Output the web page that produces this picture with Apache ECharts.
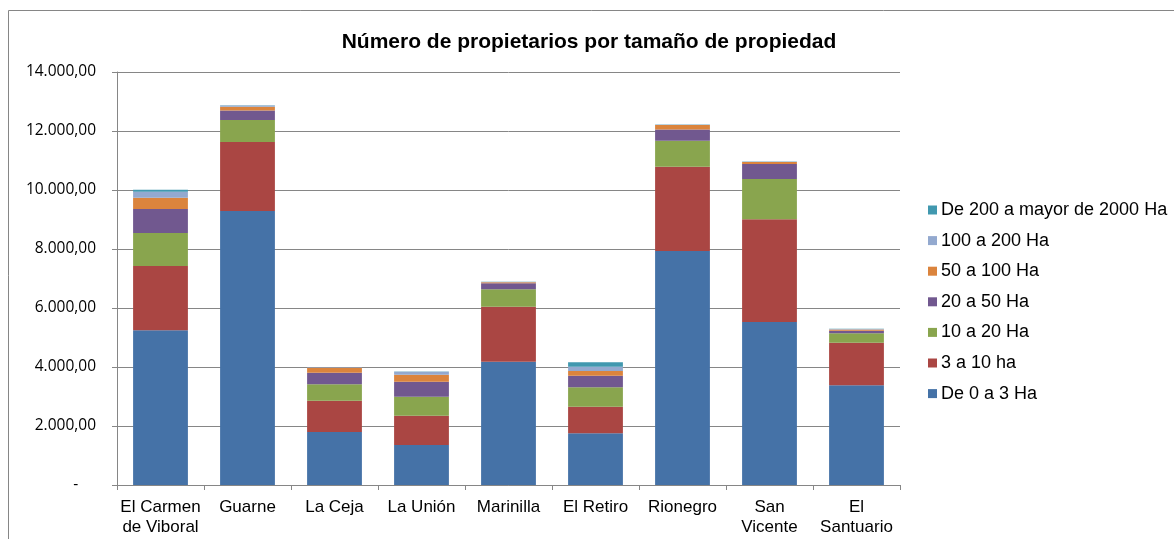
<!DOCTYPE html>
<html>
<head>
<meta charset="utf-8">
<script src="https://cdn.jsdelivr.net/npm/echarts@6/dist/echarts.min.js"></script>
<style>
  html, body { margin: 0; padding: 0; background: #fff; }
  #chart { width: 1174px; height: 539px; }
</style>
</head>
<body>
<div id="chart"></div>
<script>
// municipios
const categories = ["El Carmen\nde Viboral", "Guarne", "La Ceja", "La Unión", "Marinilla", "El Retiro", "Rionegro", "San\nVicente", "El\nSantuario"];

// propietarios por rango de tamaño
const de0a3     = [5250, 9290, 1800, 1356, 4180, 1752, 7930, 5525, 3380];
const de3a10    = [2170, 2340, 1060,  994, 1864,  903, 2858, 3482, 1445];
const de10a20   = [1120,  746,  555,  643,  589,  656,  881, 1366,  318];
const de20a50   = [ 814,  317,  394,  509,  204,  394,  380,  508,   89];
const de50a100  = [ 385,  133,  169,  237,   34,  159,  152,   69,   40];
const de100a200 = [ 200,   37,   12,  102,   10,  146,   12,   10,   17];
const de200mas  = [  70,   10,    4,   10,    5,  148,    5,    5,    4];

const seriesNames = ["De 0 a 3 Ha", "3 a 10 ha", "10 a 20 Ha", "20 a 50 Ha", "50 a 100 Ha", "100 a 200 Ha", "De 200 a mayor de 2000 Ha"];
const seriesData = [de0a3, de3a10, de10a20, de20a50, de50a100, de100a200, de200mas];
const colors = ["#4572A7", "#AA4643", "#89A54E", "#71588F", "#DB843D", "#93A9CF", "#4198AF"];

function fmt (v) {
  if (v === 0) return "-\u2007\u2007";
  const s = String(Math.round(v)).replace(/\B(?=(\d{3})+(?!\d))/g, ".");
  return s + ",00";
}

const chart = echarts.init(document.getElementById("chart"), null, { renderer: "canvas" });

const option = {
  animation: false,
  color: colors,
  title: {
    text: "Número de propietarios por tamaño de propiedad",
    left: 584,
    textAlign: "center",
    top: 27,
    textStyle: {
      color: "#000",
      fontFamily: "Liberation Sans, Arial",
      fontSize: 21,
      fontWeight: "bold",
    },
  },
  graphic: [
    {
      type: "rect",
      shape: { x: 8.5, y: 10.5, width: 1200, height: 600 },
      style: { fill: "none", stroke: "#868686", lineWidth: 1 },
      silent: true,
    }
  ],
  legend: {
    orient: "vertical",
    left: 923,
    top: 196,
    itemWidth: 9,
    itemHeight: 9,
    itemGap: 12.6,
    icon: "rect",
    data: seriesNames.slice().reverse(),
    textStyle: {
      color: "#000",
      fontFamily: "Liberation Sans, Arial",
      fontSize: 18,
      padding: [0, 0, 0, -1],
    },
  },
  grid: {
    left: 117,
    right: 274,
    top: 72,
    bottom: 54,
  },
  xAxis: {
    type: "category",
    data: categories,
    axisLine: { lineStyle: { color: "#868686" } },
    axisTick: { show: true, length: 5, lineStyle: { color: "#868686" } },
    axisLabel: {
      color: "#000",
      fontFamily: "Liberation Sans, Arial",
      fontSize: 17,
      lineHeight: 20,
      margin: 12,
      interval: 0,
    },
  },
  yAxis: {
    type: "value",
    min: 0,
    max: 14000,
    interval: 2000,
    axisLine: { show: true, lineStyle: { color: "#868686" } },
    axisTick: { show: true, length: 5, lineStyle: { color: "#868686" } },
    splitLine: { lineStyle: { color: "#868686" } },
    axisLabel: {
      color: "#000",
      fontFamily: "Open Sans, sans-serif",
      fontSize: 15.5,
      margin: 21,
      formatter: fmt,
    },
  },
  series: seriesNames.map((name, i) => ({
    name: name,
    type: "bar",
    stack: "total",
    barWidth: "63%",
    data: seriesData[i],
    itemStyle: { color: colors[i] },
  })),
};

chart.setOption(option);
</script>
</body>
</html>
